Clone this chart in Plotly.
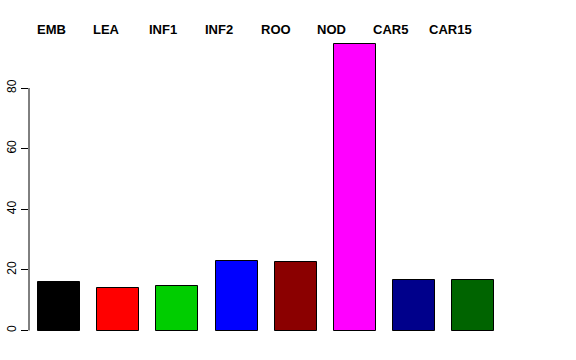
import plotly.graph_objects as go

categories = ["EMB", "LEA", "INF1", "INF2", "ROO", "NOD", "CAR5", "CAR15"]
values = [16.0, 14.0, 14.7, 22.8, 22.5, 94.7, 16.7, 16.7]
colors = ["#000000", "#FF0000", "#00CD00", "#0000FF", "#8B0000", "#FF00FF", "#00008B", "#006400"]
y_ticks = [0, 20, 40, 60, 80]

positions = list(range(len(categories)))

fig = go.Figure()
fig.add_trace(go.Bar(
    x=positions, y=values, width=0.71,
    marker=dict(color=colors, line=dict(color="#000000", width=1)),
    hoverinfo="skip", showlegend=False,
))

# category labels along the top, left-aligned, slightly narrower spacing than bars
for i, name in enumerate(categories):
    fig.add_annotation(
        x=i * 0.946 - 0.41, xref="x", xanchor="left",
        y=1.008, yref="paper", yanchor="middle",
        text="<b>" + name + "</b>", showarrow=False,
        font=dict(family="Liberation Sans, Arial, sans-serif", size=13, color="#000000"),
    )

# R-style axis line spanning only the tick range
fig.add_shape(type="line", xref="paper", yref="y", x0=0, x1=0,
              y0=y_ticks[0], y1=y_ticks[-1], line=dict(color="#000000", width=1))

fig.update_layout(
    width=576, height=360,
    margin=dict(l=29, r=73, t=32, b=17.5),
    paper_bgcolor="white", plot_bgcolor="white",
    bargap=0,
    font=dict(family="Liberation Sans, Arial, sans-serif", size=12, color="#000000"),
    xaxis=dict(range=[-0.507, 7.5], visible=False, showgrid=False, zeroline=False,
               automargin=False),
    yaxis=dict(range=[-3.79, 98.5], tickvals=y_ticks, ticktext=[str(t) for t in y_ticks],
               ticks="outside", ticklen=7, tickcolor="#000000", tickwidth=1,
               tickangle=-90, showline=False, showgrid=False, zeroline=False,
               automargin=False, tickfont=dict(size=12, color="#000000")),
)

fig.write_html("out.html")
